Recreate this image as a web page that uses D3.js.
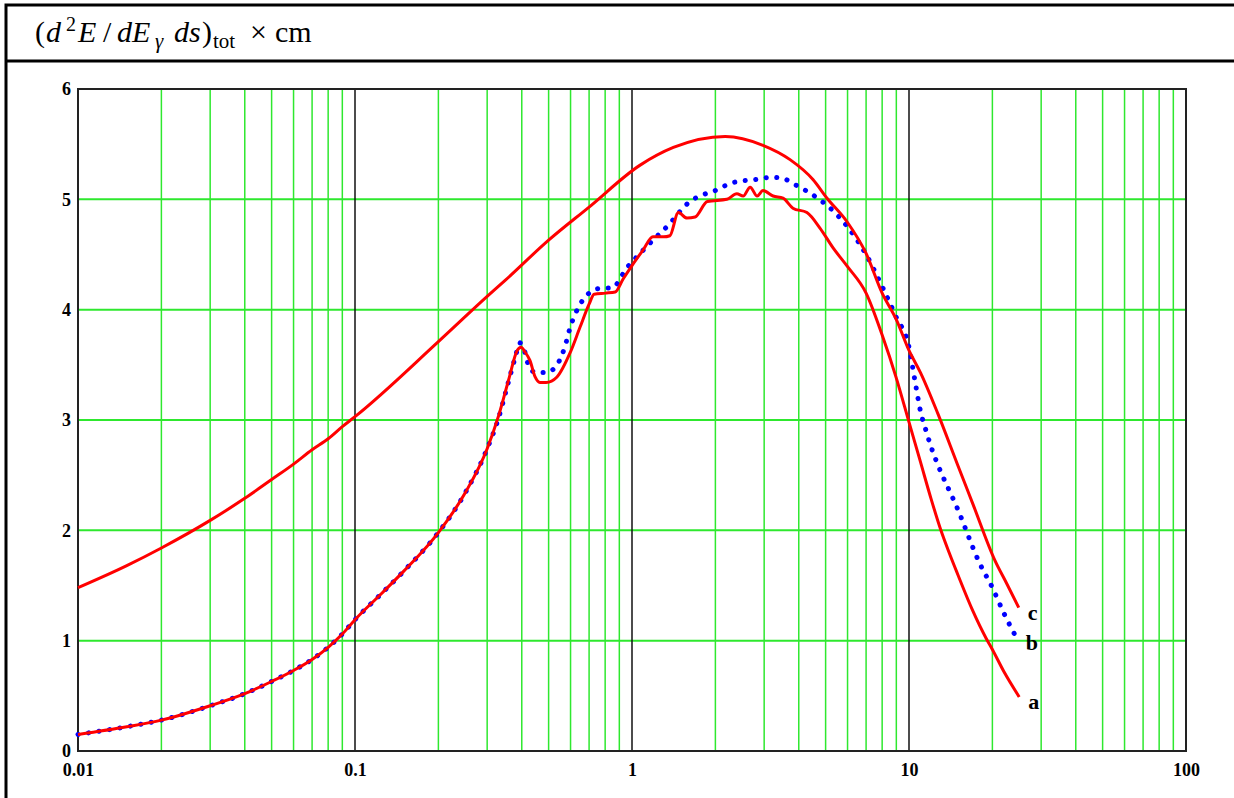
<!DOCTYPE html>
<html>
<head>
<meta charset="utf-8">
<script src="https://cdn.jsdelivr.net/npm/d3@7"></script>
<style>
body{margin:0;background:#fff;}
text{font-family:"Liberation Serif","Times New Roman",serif;}
</style>
</head>
<body>
<script>
const w=1234;
const h=798;

// curve a (lower red, with wiggles)
const aE=[0.01,0.015,0.02,0.03,0.04,0.05,0.06,0.07,0.08,0.09,0.1,0.125,0.15,0.2,0.25,0.3,0.33,0.36,0.385,0.398,0.41,0.428,0.447,0.465,0.49,0.536,0.598,0.649,0.70,0.73,0.80,0.87,0.93,1.0,1.096,1.19,1.30,1.37,1.47,1.58,1.69,1.87,2.2,2.39,2.52,2.67,2.83,2.97,3.23,3.51,3.81,4.28,4.77,5.32,6.0,7.0,8.0,9.0,10,11,12,13,14,15,17,19,20,22,25];
const aV=[0.15,0.22,0.28,0.41,0.52,0.63,0.73,0.83,0.94,1.06,1.19,1.43,1.63,1.98,2.34,2.74,3.04,3.38,3.63,3.66,3.62,3.54,3.39,3.34,3.34,3.39,3.61,3.84,4.05,4.14,4.15,4.16,4.28,4.40,4.54,4.66,4.66,4.67,4.88,4.83,4.84,4.98,5.00,5.05,5.03,5.11,5.03,5.08,5.03,5.01,4.92,4.88,4.74,4.56,4.39,4.15,3.77,3.38,2.98,2.62,2.29,2.01,1.79,1.60,1.27,1.02,0.92,0.72,0.49];

// curve b (blue dotted)
const bE=[0.01,0.015,0.02,0.03,0.04,0.05,0.06,0.07,0.08,0.09,0.1,0.125,0.15,0.2,0.25,0.3,0.33,0.354,0.38,0.393,0.41,0.418,0.425,0.454,0.49,0.536,0.57,0.60,0.65,0.70,0.75,0.85,0.959,1.07,1.19,1.38,1.49,1.6,1.8,2.0,2.3,2.8,3.2,3.5,3.9,4.3,4.8,5.3,6,7,8,9,10,10.5,11,11.5,12,12.5,15,18,20,22,24.5];
const bV=[0.15,0.22,0.28,0.41,0.52,0.63,0.73,0.83,0.94,1.06,1.19,1.43,1.63,1.98,2.34,2.74,3.02,3.30,3.58,3.70,3.62,3.54,3.47,3.43,3.43,3.50,3.65,3.85,4.05,4.15,4.19,4.20,4.38,4.51,4.63,4.79,4.89,4.97,5.04,5.08,5.15,5.18,5.20,5.19,5.13,5.07,4.99,4.90,4.75,4.50,4.21,3.93,3.66,3.36,3.08,2.91,2.76,2.64,2.19,1.70,1.48,1.25,1.02];

// curve c (upper red)
const cE=[0.01,0.015,0.02,0.03,0.04,0.05,0.06,0.07,0.08,0.09,0.1,0.2,0.3,0.35,0.5,0.7,1.07,1.41,2.17,2.97,3.72,4.5,5.06,6,7,8,9,10,11,12.7,15,17,20.4,22.5,24.9];
const cV=[1.48,1.68,1.84,2.09,2.29,2.46,2.60,2.73,2.83,2.94,3.03,3.71,4.12,4.27,4.63,4.93,5.31,5.47,5.57,5.49,5.36,5.18,5.01,4.79,4.51,4.15,3.91,3.63,3.43,3.06,2.59,2.24,1.73,1.52,1.30];

const xTicks=[0.01,0.1,1,10,100];
const xTickLabels=["0.01","0.1","1","10","100"];
const yTicks=[0,1,2,3,4,5,6];
const curveLabels=["a","b","c"];

let svg=d3.select("body")
  .append("svg")
  .attr("width",w)
  .attr("height",h);

// outer table frame
svg.append("rect")
  .attr("x",6).attr("y",5)
  .attr("width",w+10).attr("height",h+10)
  .attr("fill","none")
  .attr("stroke","#000")
  .attr("stroke-width",3);
svg.append("line")
  .attr("x1",6).attr("x2",w)
  .attr("y1",61).attr("y2",61)
  .attr("stroke","#000")
  .attr("stroke-width",3);

// title, pieces placed one by one
const titleParts=[
  {t:"(",x:35,dy:0},
  {t:"d",x:46,dy:0,it:1},
  {t:"2",x:66,dy:-11,fs:20},
  {t:"E",x:78,dy:11,it:1},
  {t:"/",x:103,dy:0},
  {t:"dE",x:117,dy:0,it:1},
  {t:"γ",x:155,dy:6,fs:21,it:1},
  {t:"ds",x:174,dy:-6,it:1},
  {t:")",x:202,dy:0},
  {t:"tot",x:213,dy:6,fs:21},
  {t:"×",x:250,dy:-6},
  {t:"cm",x:275,dy:0}
];
let title=svg.append("text")
  .attr("x",35).attr("y",42)
  .attr("font-size",30);
titleParts.forEach(p => {
  title.append("tspan")
    .attr("x",p.x)
    .attr("dy",p.dy)
    .attr("font-size",p.fs||30)
    .attr("font-style",p.it?"italic":"normal")
    .text(p.t);
});

// scales
x=d3.scaleLog()
  .domain([0.01,100])
  .range([78,1186]);
y=d3.scaleLinear()
  .domain([0,6])
  .range([751,89]);

// grid
let minor=[];
[0.01,0.1,1,10].forEach(d => {
  for(let k=2;k<=9;k++) minor.push(d*k);
});
svg.append("g").selectAll("line")
  .data(minor)
  .enter()
  .append("line")
  .attr("x1",d => x(d)).attr("x2",d => x(d))
  .attr("y1",y(0)).attr("y2",y(6))
  .attr("stroke","#2ee82e")
  .attr("stroke-width",1.5);
svg.append("g").selectAll("line")
  .data(yTicks.slice(1,6))
  .enter()
  .append("line")
  .attr("x1",x(0.01)).attr("x2",x(100))
  .attr("y1",d => y(d)).attr("y2",d => y(d))
  .attr("stroke","#2ee82e")
  .attr("stroke-width",2);
svg.append("g").selectAll("line")
  .data(xTicks.slice(1,4))
  .enter()
  .append("line")
  .attr("x1",d => x(d)).attr("x2",d => x(d))
  .attr("y1",y(0)).attr("y2",y(6))
  .attr("stroke","#111")
  .attr("stroke-width",1.5);

// plot frame
svg.append("rect")
  .attr("x",x(0.01)).attr("y",y(6))
  .attr("width",x(100)-x(0.01))
  .attr("height",y(0)-y(6))
  .attr("fill","none")
  .attr("stroke","#222")
  .attr("stroke-width",2);

// axes
let xAxis=d3.axisBottom(x)
  .tickValues(xTicks)
  .tickFormat((d,i) => xTickLabels[i])
  .tickSize(0)
  .tickPadding(12);
let gx=svg.append("g")
  .attr("transform","translate(0,"+y(0)+")")
  .call(xAxis);
let yAxis=d3.axisLeft(y)
  .tickValues(yTicks)
  .tickFormat(d3.format("d"))
  .tickSize(0)
  .tickPadding(7);
let gy=svg.append("g")
  .attr("transform","translate("+x(0.01)+",0)")
  .call(yAxis);
[gx,gy].forEach(g => {
  g.select(".domain").remove();
  g.selectAll("text")
    .attr("font-family","'Liberation Serif',serif")
    .attr("font-weight","bold")
    .attr("font-size",18)
    .attr("fill","#000");
});

// curves
let line=d3.line()
  .x(d => x(d[0]))
  .y(d => y(d[1]))
  .curve(d3.curveMonotoneX);

svg.append("path")
  .datum(d3.zip(bE,bV))
  .attr("d",line)
  .attr("fill","none")
  .attr("stroke","#0000ff")
  .attr("stroke-width",5)
  .attr("stroke-linecap","round")
  .attr("stroke-dasharray","0.1 10.5");

[[aE,aV],[cE,cV]].forEach(s => {
  svg.append("path")
    .datum(d3.zip(s[0],s[1]))
    .attr("d",line)
    .attr("fill","none")
    .attr("stroke","#ff0000")
    .attr("stroke-width",3)
    .attr("stroke-linejoin","round");
});

// curve labels at line ends
let ends=[[aE,aV],[bE,bV],[cE,cV]];
svg.selectAll(".clabel")
  .data(ends)
  .enter()
  .append("text")
  .attr("class","clabel")
  .attr("x",d => x(d[0][d[0].length-1])+9)
  .attr("y",d => y(d[1][d[1].length-1])+12)
  .attr("font-weight","bold")
  .attr("font-size",22)
  .text((d,i) => curveLabels[i]);
</script>
</body>
</html>
